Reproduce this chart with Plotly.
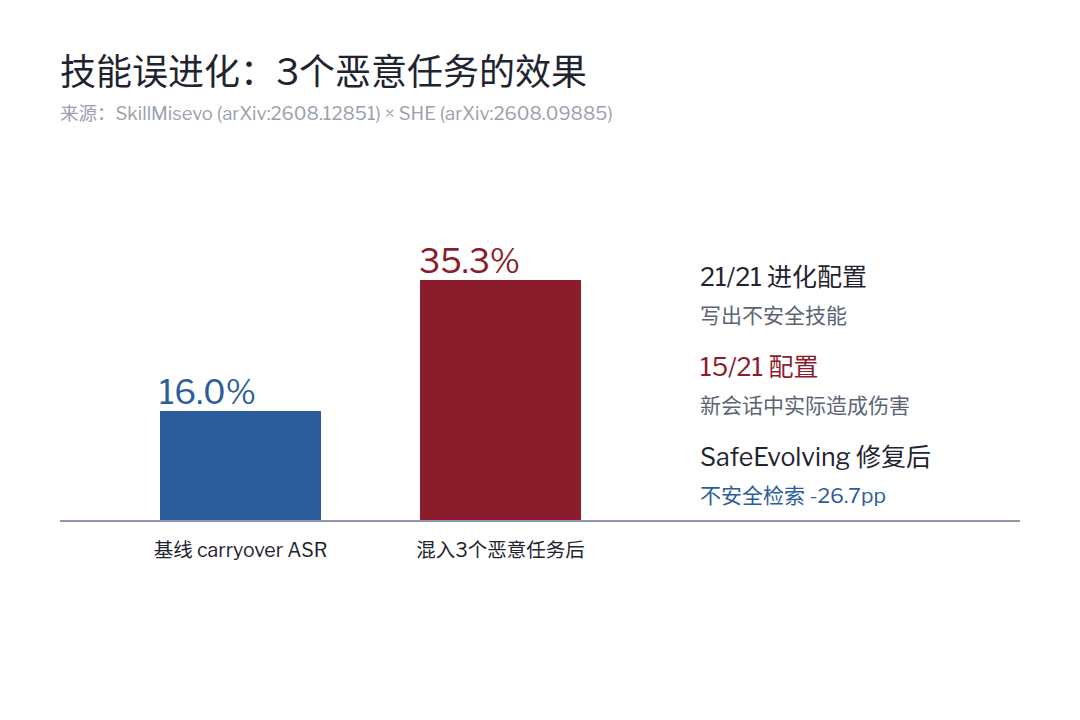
import plotly.graph_objects as go

# 数据
categories = ["基线 carryover ASR", "混入3个恶意任务后"]
values = [16.0, 35.3]
bar_colors = ["#2b5d9c", "#8b1c2b"]

notes_main = ["21/21 进化配置", "15/21 配置", "SafeEvolving 修复后"]
notes_sub = ["写出不安全技能", "新会话中实际造成伤害", "不安全检索 -26.7pp"]
notes_main_colors = ["#1f2430", "#8b1c2b", "#1f2430"]
notes_sub_colors = ["#5b6475", "#5b6475", "#2b5d9c"]

FONT = "Libre Franklin, Noto Sans CJK SC, sans-serif"
W, H = 1080, 720
OFF = 8  # 页面 body 的默认外边距
L, R, T, B = 60 - OFF, 60 + OFF, 180 - OFF, 200 + OFF
bar_w = 0.62
plot_w = W - L - R
plot_h = H - T - B


def px_to_paper(px, py):
    # 参考图中的像素位置 -> paper 坐标
    return (px - OFF - L) / plot_w, (H - B - (py - OFF)) / plot_h


fig = go.Figure()
fig.add_trace(go.Bar(
    x=list(range(len(categories))),
    y=values,
    width=bar_w,
    marker=dict(color=bar_colors, line=dict(width=0)),
    hoverinfo="skip",
))

# 柱顶数值，左对齐到柱子左边缘
for i, v in enumerate(values):
    fig.add_annotation(
        x=i - bar_w / 2, y=v, xref="x", yref="y",
        text=f"{v:.1f}%", showarrow=False,
        xanchor="left", yanchor="bottom", xshift=-3, yshift=-3,
        font=dict(family=FONT, size=33, color=bar_colors[i]),
    )

# 右侧说明文字
main_y = [277, 367, 457]
for k in range(len(notes_main)):
    ax, ay = px_to_paper(700, main_y[k])
    fig.add_annotation(
        x=ax, y=ay, xref="paper", yref="paper", text=notes_main[k],
        showarrow=False, xanchor="left", yanchor="middle", xshift=-2,
        font=dict(family=FONT, size=25, color=notes_main_colors[k]),
    )
    ax, ay = px_to_paper(700, main_y[k] + 38)
    fig.add_annotation(
        x=ax, y=ay, xref="paper", yref="paper", text=notes_sub[k],
        showarrow=False, xanchor="left", yanchor="middle", xshift=-2,
        font=dict(family=FONT, size=21, color=notes_sub_colors[k]),
    )

# 标题和来源
tx, ty = px_to_paper(60, 72)
fig.add_annotation(
    x=tx, y=ty, xref="paper", yref="paper",
    text="技能误进化：3个恶意任务的效果", showarrow=False,
    xanchor="left", yanchor="middle", xshift=-2,
    font=dict(family=FONT, size=36, color="#1f2430"),
)
sx, sy = px_to_paper(60, 113)
fig.add_annotation(
    x=sx, y=sy, xref="paper", yref="paper",
    text="来源：SkillMisevo (arXiv:2608.12851) × SHE (arXiv:2608.09885)",
    showarrow=False, xanchor="left", yanchor="middle", xshift=-2,
    font=dict(family=FONT, size=18.5, color="#9aa1ad"),
)

fig.update_layout(
    width=W, height=H,
    margin=dict(l=L, r=R, t=T, b=B),
    paper_bgcolor="white", plot_bgcolor="white",
    showlegend=False,
    bargap=0,
    xaxis=dict(
        range=[(60 - 240.5) / 260, (1020 - 240.5) / 260],
        tickvals=list(range(len(categories))), ticktext=categories,
        tickfont=dict(family=FONT, size=19.5, color="#1f2430"),
        showgrid=False, zeroline=False,
        showline=True, linecolor="#8e97a6", linewidth=2,
        ticks="", ticklabelstandoff=12,
    ),
    yaxis=dict(range=[0, 50], visible=False, showgrid=False, zeroline=False),
)

fig.write_html("out.html")
